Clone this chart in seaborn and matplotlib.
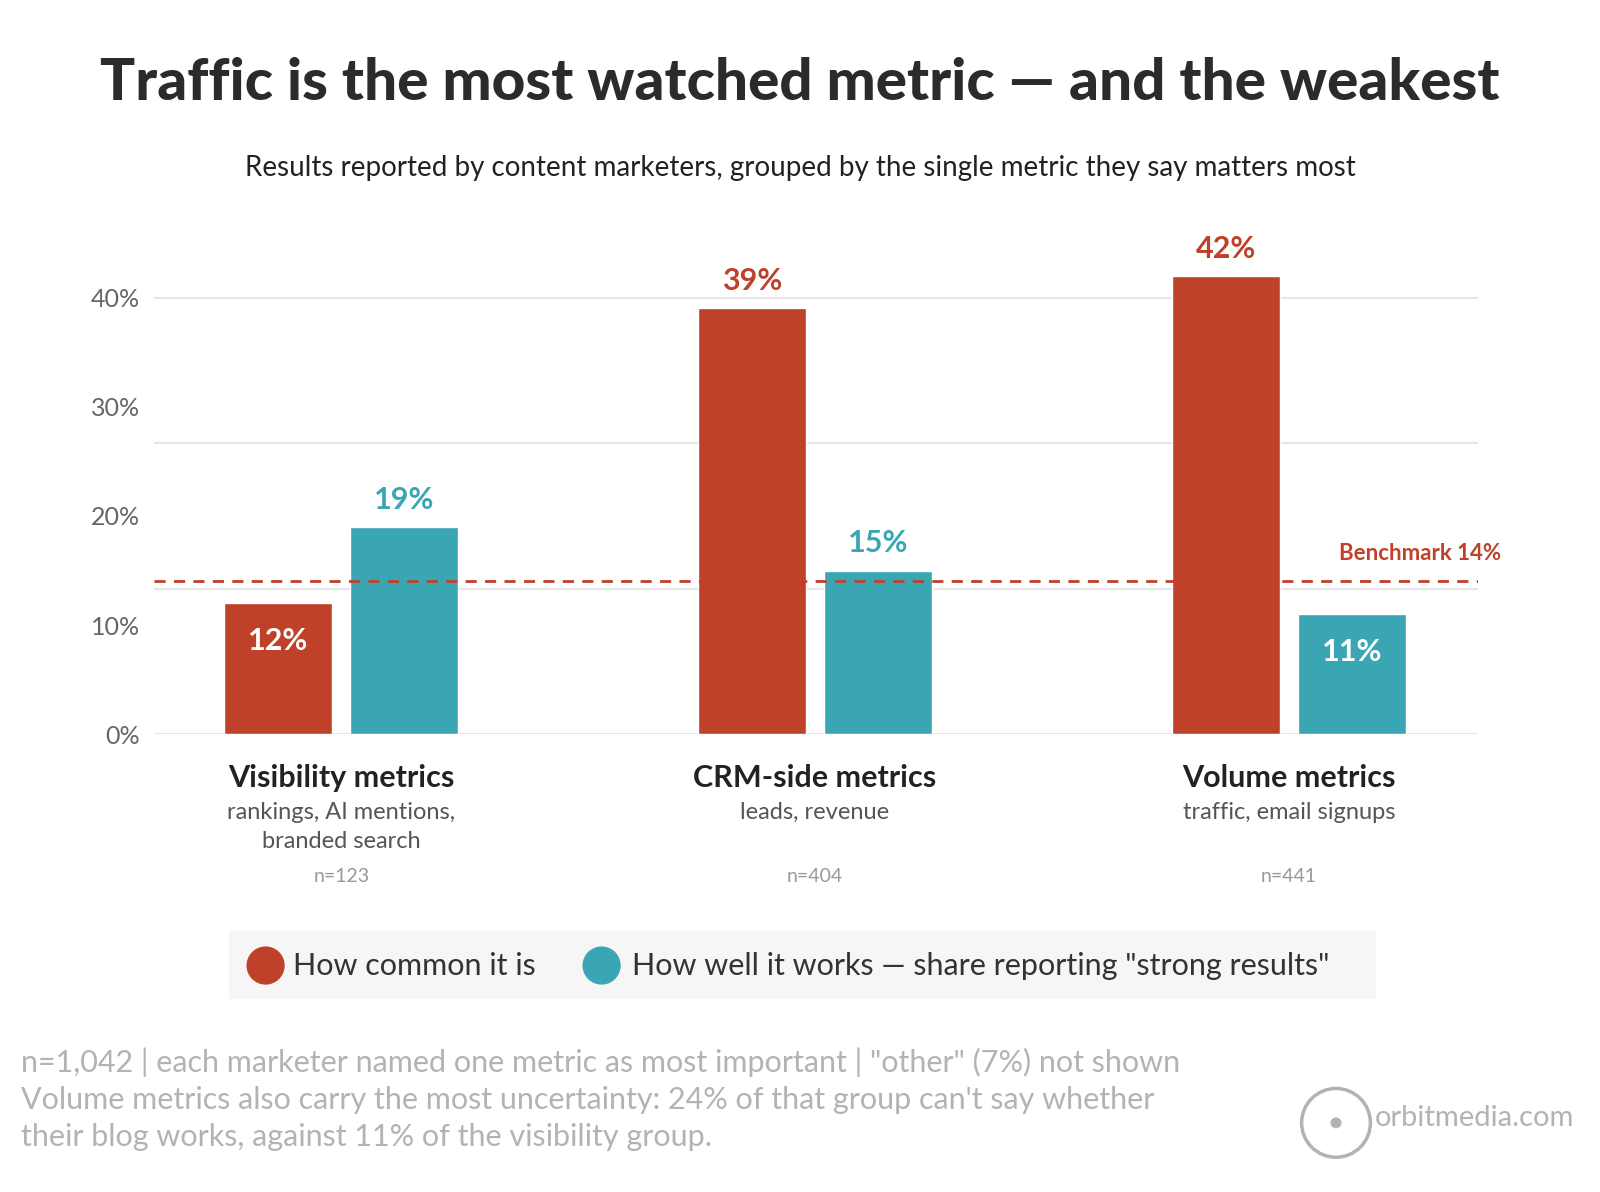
import numpy as np
import pandas as pd
import seaborn as sns
from matplotlib import pyplot as plt
from matplotlib.patches import FancyBboxPatch, Circle, Ellipse

groups = ["Visibility metrics", "CRM-side metrics", "Volume metrics"]
subtitles = ["rankings, AI mentions,\nbranded search", "leads, revenue", "traffic, email signups"]
sizes = ["n=123", "n=404", "n=441"]
series = ["How common it is", "How well it works — share reporting \"strong results\""]
common = [12, 39, 42]
works = [19, 15, 11]
benchmark = 14

RED = "#bf4129"
TEAL = "#3aa6b3"

df = pd.DataFrame({
    "group": groups * 2,
    "series": [series[0]] * 3 + [series[1]] * 3,
    "value": common + works,
})

sns.set_theme(style="white")
plt.rcParams['font.family'] = ['Lato', 'DejaVu Sans']

fig = plt.figure(figsize=(16, 11.92), dpi=100)
ax = fig.add_axes([0.096, 0.384, 0.828, 0.403])

sns.barplot(data=df, x="group", y="value", hue="series", palette=[RED, TEAL],
            width=0.53, gap=0.14, ax=ax, legend=False, saturation=1)
ax.set_ylim(0, 44)
ax.set_xlim(-0.396, 2.4)

# gridlines (offset from tick labels as in the original)
for g in [0, 40 / 3, 80 / 3, 40]:
    ax.axhline(g, color="#e6e6e6", lw=1.5, zorder=0)
ax.axhline(benchmark, color=RED, lw=2, ls=(0, (4, 3)), zorder=3)
ax.text(2.277, benchmark + 2.6, f"Benchmark {benchmark}%", color=RED, fontsize=16,
        fontweight="bold", ha="center", va="center", clip_on=False)

ax.set_yticks([0, 10, 20, 30, 40])
ax.set_yticklabels([f"{v}%" for v in [0, 10, 20, 30, 40]], fontsize=18, color="#666666")
ax.tick_params(axis="y", length=0, pad=10)
ax.set_xticks([])
ax.set_xlabel("")
ax.set_ylabel("")
sns.despine(ax=ax, left=True, bottom=True)

for bar in ax.patches:
    h = bar.get_height()
    x = bar.get_x() + bar.get_width() / 2
    col = RED if bar.get_facecolor()[0] > 0.5 else TEAL
    if h < benchmark:
        ax.text(x, h - 3.5, f"{h:.0f}%", color="white", fontsize=22, fontweight="bold",
                ha="center", va="center")
    else:
        ax.text(x, h + 1.2, f"{h:.0f}%", color=col, fontsize=22, fontweight="bold",
                ha="center", va="bottom")

for i, (g, s, n) in enumerate(zip(groups, subtitles, sizes)):
    ax.text(i, -4.0, g, fontsize=22, fontweight="bold", color="#222222", ha="center", va="center")
    ax.text(i, -6.2, s, fontsize=17, color="#555555", ha="center", va="top", linespacing=1.45)
    ax.text(i, -13.0, n, fontsize=14, color="#999999", ha="center", va="center")

fig.text(0.5, 0.930, "Traffic is the most watched metric — and the weakest", fontsize=42,
         fontweight="black", color="#2b2b2b", ha="center", va="center")
fig.text(0.5, 0.859, "Results reported by content marketers, grouped by the single metric they say matters most",
         fontsize=20, color="#222222", ha="center", va="center")

# legend box
fig.patches.append(FancyBboxPatch((0.143, 0.162), 0.717, 0.057, boxstyle="square,pad=0",
                                  transform=fig.transFigure, facecolor="#f6f6f6", edgecolor="none"))
rx = 0.0115
fig.patches.append(Ellipse((0.166, 0.190), 2 * rx, 2 * rx * 16 / 11.92, transform=fig.transFigure, color=RED))
fig.text(0.183, 0.190, series[0], fontsize=22, color="#333333", va="center")
fig.patches.append(Ellipse((0.376, 0.190), 2 * rx, 2 * rx * 16 / 11.92, transform=fig.transFigure, color=TEAL))
fig.text(0.395, 0.190, series[1], fontsize=22, color="#333333", va="center")

fig.text(0.013, 0.078,
         "n=1,042 | each marketer named one metric as most important | \"other\" (7%) not shown\n"
         "Volume metrics also carry the most uncertainty: 24% of that group can't say whether\n"
         "their blog works, against 11% of the visibility group.",
         fontsize=22, color="#b3b3b3", va="center", linespacing=1.4)

r = 0.0215
fig.patches.append(Ellipse((0.835, 0.058), 2 * r, 2 * r * 16 / 11.92, transform=fig.transFigure, fill=False,
                           edgecolor="#b3b3b3", lw=2.5))
fig.patches.append(Ellipse((0.835, 0.058), 0.006, 0.006 * 16 / 11.92, transform=fig.transFigure, color="#b3b3b3"))
fig.text(0.859, 0.062, "orbitmedia.com", fontsize=21, color="#b3b3b3", va="center")

fig.savefig("out.png", dpi=100, facecolor="white")
